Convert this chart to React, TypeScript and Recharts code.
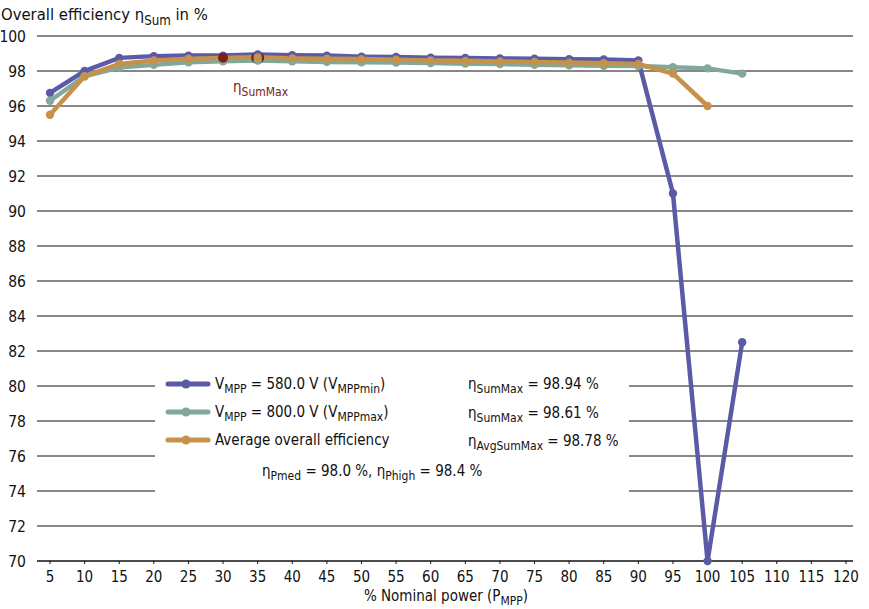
import React from 'react';
import { LineChart, Line, XAxis, YAxis, CartesianGrid } from 'recharts';

const powerLevels = [5, 10, 15, 20, 25, 30, 35, 40, 45, 50, 55, 60, 65, 70, 75, 80, 85, 90, 95, 100, 105];
const vmppMin = [96.75, 98.0, 98.75, 98.85, 98.88, 98.88, 98.94, 98.9, 98.88, 98.82, 98.8, 98.76, 98.74, 98.72, 98.7, 98.67, 98.66, 98.6, 91.0, 70.0, 82.5];
const vmppMax = [96.3, 97.7, 98.2, 98.35, 98.5, 98.55, 98.6, 98.55, 98.52, 98.5, 98.48, 98.45, 98.42, 98.4, 98.36, 98.33, 98.3, 98.28, 98.22, 98.15, 97.85];
const average = [95.5, 97.7, 98.4, 98.6, 98.7, 98.75, 98.78, 98.72, 98.7, 98.68, 98.65, 98.6, 98.58, 98.55, 98.52, 98.48, 98.45, 98.4, 97.85, 96.0, null];
// ηSumMax markers (one drawn behind the curves, one on top)
const sumMaxBack = [null, null, null, null, null, null, 98.76, null, null, null, null, null, null, null, null, null, null, null, null, null, null];
const sumMaxFront = [null, null, null, null, null, 98.76, null, null, null, null, null, null, null, null, null, null, null, null, null, null, null];

const xTicks = [5, 10, 15, 20, 25, 30, 35, 40, 45, 50, 55, 60, 65, 70, 75, 80, 85, 90, 95, 100, 105, 110, 115, 120];
const yTicks = [70, 72, 74, 76, 78, 80, 82, 84, 86, 88, 90, 92, 94, 96, 98, 100];

const data = powerLevels.map((p, i) => ({
  p,
  vmin: vmppMin[i],
  vmax: vmppMax[i],
  avg: average[i],
  mBack: sumMaxBack[i],
  mFront: sumMaxFront[i],
}));

const PURPLE = '#5b5aa6';
const GREEN = '#80a89b';
const TAN = '#c6924a';
const MAROON = '#7b2216';
const INK = '#111';
const FONT = '"Liberation Sans Narrow", "DejaVu Sans Condensed", "Open Sans", sans-serif';

const Sub = ({ children }: { children: React.ReactNode }) => (
  <span style={{ fontSize: '0.8em', position: 'relative', top: '0.35em' }}>{children}</span>
);

const LegendIcon = ({ color }: { color: string }) => (
  <svg width={46} height={12} style={{ display: 'block' }}>
    <line x1={3} y1={6} x2={43} y2={6} stroke={color} strokeWidth={5} strokeLinecap="round" />
    <circle cx={21} cy={6} r={4.5} fill={color} />
  </svg>
);

const rowStyle = (top: number, left: number): React.CSSProperties => ({
  position: 'absolute',
  top: top - 10,
  left,
  height: 20,
  lineHeight: '20px',
  display: 'flex',
  alignItems: 'center',
  whiteSpace: 'nowrap',
});

export default function App() {
  return (
    <div
      style={{
        position: 'absolute',
        left: 0,
        top: 0,
        width: 869,
        height: 609,
        background: '#fff',
        fontFamily: FONT,
        color: INK,
        fontSize: 15,
      }}
    >
      <LineChart width={869} height={609} data={data} margin={{ top: 36, right: 16, bottom: 18, left: 0 }}>
        <CartesianGrid horizontal vertical={false} stroke={INK} strokeWidth={1} />
        <XAxis
          type="number"
          dataKey="p"
          domain={[5, 120]}
          ticks={xTicks}
          padding={{ left: 13, right: 7 }}
          interval={0}
          height={30}
          tickSize={3}
          tickMargin={7}
          tickLine={{ stroke: INK }}
          axisLine={{ stroke: INK }}
          tick={{ fill: INK, fontSize: 15, fontFamily: FONT }}
        />
        <YAxis
          type="number"
          domain={[70, 100]}
          ticks={yTicks}
          interval={0}
          width={37}
          tickLine={false}
          axisLine={false}
          tickMargin={5}
          tick={{ fill: INK, fontSize: 15.5, fontFamily: FONT }}
        />
        <Line dataKey="mBack" stroke="none" dot={{ r: 6.5, fill: MAROON, stroke: 'none' }} isAnimationActive={false} />
        <Line dataKey="vmin" stroke={PURPLE} strokeWidth={4.5} dot={{ r: 4.2, fill: PURPLE, stroke: 'none' }} isAnimationActive={false} />
        <Line dataKey="vmax" stroke={GREEN} strokeWidth={4.5} dot={{ r: 4.2, fill: GREEN, stroke: 'none' }} isAnimationActive={false} />
        <Line dataKey="avg" stroke={TAN} strokeWidth={4.5} dot={{ r: 4.2, fill: TAN, stroke: 'none' }} isAnimationActive={false} />
        <Line dataKey="mFront" stroke="none" dot={{ r: 5, fill: MAROON, stroke: 'none' }} isAnimationActive={false} />
      </LineChart>

      {/* title */}
      <div style={{ position: 'absolute', left: 1, top: 5, fontSize: 16.5, whiteSpace: 'nowrap' }}>
        Overall efficiency η<Sub>Sum</Sub> in %
      </div>

      {/* x axis title */}
      <div style={{ position: 'absolute', left: 0, width: 892, top: 587, textAlign: 'center', whiteSpace: 'nowrap' }}>
        % Nominal power (P<Sub>MPP</Sub>)
      </div>

      {/* ηSumMax label */}
      <div style={{ position: 'absolute', left: 233, top: 78, color: MAROON, whiteSpace: 'nowrap' }}>
        η<Sub>SumMax</Sub>
      </div>

      {/* legend + annotations box */}
      <div style={{ position: 'absolute', left: 155, top: 365, width: 474, height: 135, background: '#fff' }} />

      <div style={rowStyle(384, 165)}>
        <LegendIcon color={PURPLE} />
        <span style={{ marginLeft: 4 }}>
          V<Sub>MPP</Sub> = 580.0 V (V<Sub>MPPmin</Sub>)
        </span>
      </div>
      <div style={rowStyle(412, 165)}>
        <LegendIcon color={GREEN} />
        <span style={{ marginLeft: 4 }}>
          V<Sub>MPP</Sub> = 800.0 V (V<Sub>MPPmax</Sub>)
        </span>
      </div>
      <div style={rowStyle(440, 165)}>
        <LegendIcon color={TAN} />
        <span style={{ marginLeft: 4 }}>Average overall efficiency</span>
      </div>

      <div style={rowStyle(384, 468)}>
        <span>
          η<Sub>SumMax</Sub> = 98.94 %
        </span>
      </div>
      <div style={rowStyle(413, 468)}>
        <span>
          η<Sub>SumMax</Sub> = 98.61 %
        </span>
      </div>
      <div style={rowStyle(441, 468)}>
        <span>
          η<Sub>AvgSumMax</Sub> = 98.78 %
        </span>
      </div>
      <div style={rowStyle(471, 262)}>
        <span>
          η<Sub>Pmed</Sub> = 98.0 %, η<Sub>Phigh</Sub> = 98.4 %
        </span>
      </div>
    </div>
  );
}
